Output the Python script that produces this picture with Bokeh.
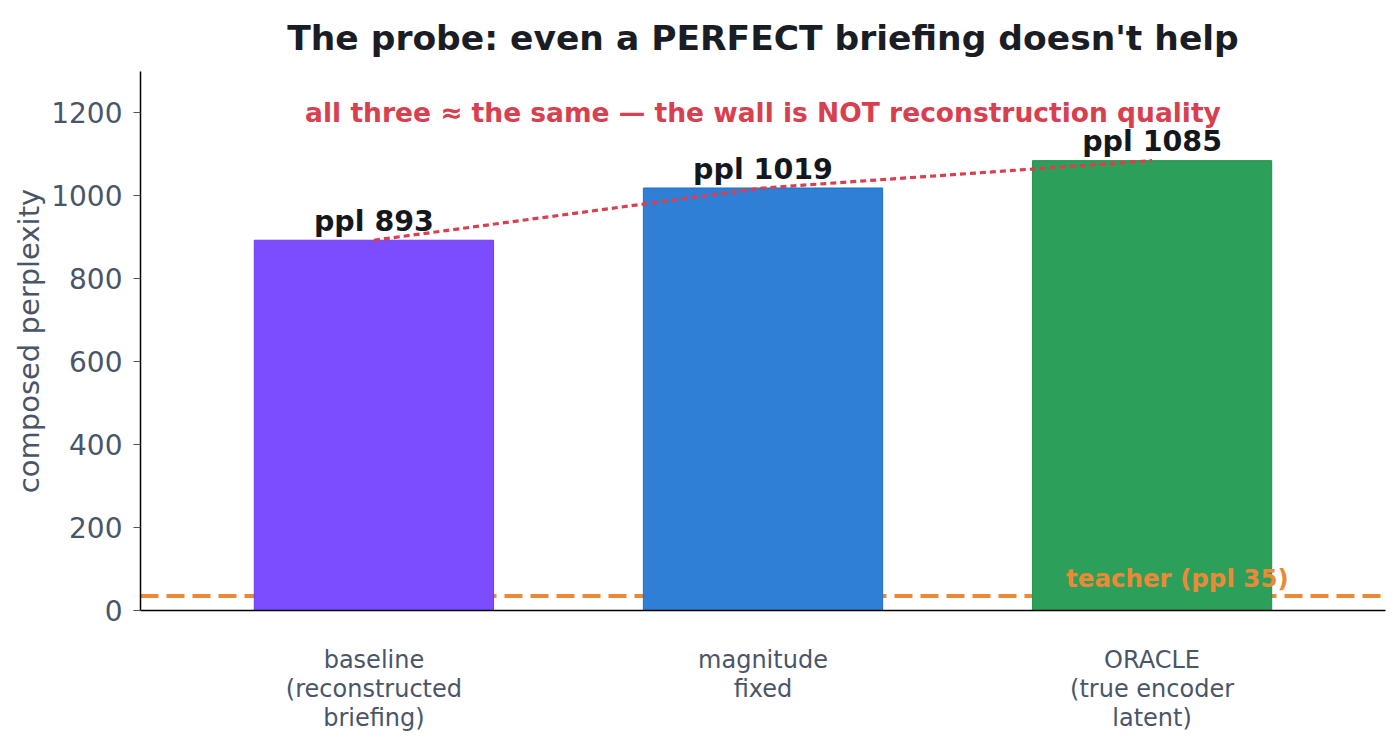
from bokeh.plotting import figure
from bokeh.models import ColumnDataSource, FixedTicker, Span, Range1d
from bokeh.core.properties import value
from bokeh.embed import file_html
from bokeh.resources import INLINE

title_text = "The probe: even a PERFECT briefing doesn't help"
categories = ["baseline\n(reconstructed\nbriefing)", "magnitude\nfixed", "ORACLE\n(true encoder\nlatent)"]
ppl = [893, 1019, 1085]
bar_labels = ["ppl 893", "ppl 1019", "ppl 1085"]
colors = ["#7c4dff", "#2f7fd6", "#2ca05a"]
edge_colors = ["#6a3df0", "#1f6fc8", "#229050"]
teacher_ppl = 35
y_ticks = [0, 200, 400, 600, 800, 1000, 1200]

FONT = "DejaVu Sans"
xs = list(range(len(categories)))

p = figure(width=1390, height=738, output_backend="svg", toolbar_location=None,
           x_range=Range1d(-0.6, 2.6), y_range=Range1d(0, 1300),
           min_border_left=140, min_border_right=5, min_border_top=71, min_border_bottom=128,
           title=title_text)
p.title.text_font = FONT
p.title.text_font_size = "34.5px"
p.title.text_font_style = "bold"
p.title.text_color = "#1a1d23"
p.title.align = "center"
p.title.vertical_align = "bottom"
p.title.offset = 0
p.title.standoff = 27

p.grid.visible = False
p.outline_line_color = None
p.background_fill_color = "white"

# teacher line (behind bars)
teacher = Span(location=teacher_ppl, dimension="width", line_color="#ed8936",
               line_width=4, line_dash="18 8", level="underlay")
p.add_layout(teacher)

src = ColumnDataSource(dict(x=xs, top=ppl, color=colors, edge=edge_colors, lab=bar_labels,
                            ly=[v + 6 for v in ppl]))
p.vbar(x="x", top="top", width=0.615, fill_color="color", line_color="edge", line_width=1, source=src)

# red dotted trend line
p.line(x=xs, y=ppl, line_color="#d9404f", line_width=3.2, line_dash="6 4")

p.text(x="x", y="ly", text="lab", source=src, text_font=value(FONT), text_font_size="28.5px",
       text_font_style="bold", text_color="#14171c", text_align="center", text_baseline="bottom")

p.text(x=[1], y=[1202], text=["all three \u2248 the same \u2014 the wall is NOT reconstruction quality"],
       text_font=value(FONT), text_font_size="26.5px", text_font_style="bold",
       text_color="#d9404f", text_align="center", text_baseline="middle")

p.text(x=[2.065], y=[78], text=["teacher (ppl %d)" % teacher_ppl],
       text_font=value(FONT), text_font_size="24.5px", text_font_style="bold",
       text_color="#ed8936", text_align="center", text_baseline="middle")

# axes
xa = p.xaxis[0]
xa.ticker = FixedTicker(ticks=xs)
xa.major_label_overrides = {i: c for i, c in zip(xs, categories)}
xa.major_tick_line_color = None
xa.minor_tick_line_color = None
xa.axis_line_color = "black"
xa.axis_line_width = 1.5
xa.major_label_text_font = FONT
xa.major_label_text_font_size = "24px"
xa.major_label_text_line_height = 1.04
xa.major_label_text_color = "#4a5568"
xa.major_label_standoff = 29

ya = p.yaxis[0]
ya.ticker = FixedTicker(ticks=y_ticks)
ya.minor_tick_line_color = None
ya.major_tick_out = 7
ya.major_tick_in = 0
ya.major_tick_line_color = "#4a5568"
ya.axis_line_color = "black"
ya.axis_line_width = 1.5
ya.major_label_text_font = FONT
ya.major_label_text_font_size = "28px"
ya.major_label_text_color = "#4a5568"
ya.major_label_standoff = 11
ya.axis_label = "composed perplexity"
ya.axis_label_text_font = FONT
ya.axis_label_text_font_size = "29px"
ya.axis_label_text_font_style = "normal"
ya.axis_label_text_color = "#4a5568"
ya.axis_label_standoff = 2

open("out.html", "w").write(file_html(p, INLINE))
